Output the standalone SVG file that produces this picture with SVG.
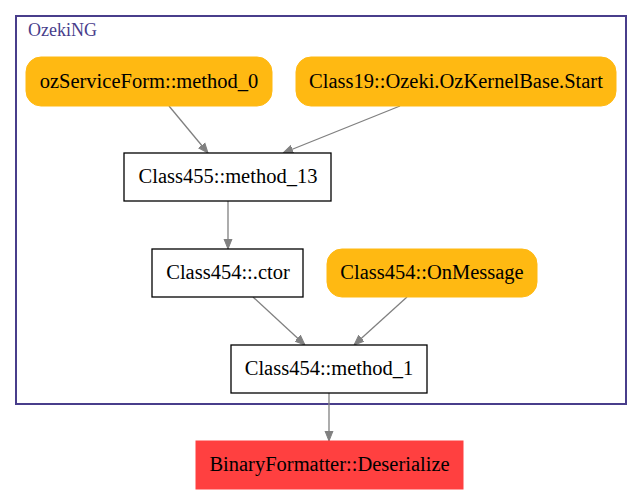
<svg xmlns="http://www.w3.org/2000/svg" width="643" height="495" viewBox="0 0 643 495">
<defs>
<marker id="ah" viewBox="0 0 10 10" refX="10" refY="5" markerWidth="10" markerHeight="10" markerUnits="userSpaceOnUse" orient="auto">
<path d="M0,1 L10,5 L0,9 Z" fill="#808080" stroke="#808080"/>
</marker>
</defs>
<style>
text{font-family:'Liberation Serif',serif;font-size:20.5px;fill:#000;text-anchor:middle}
.orange{fill:#ffb912;stroke:#ffb912}
.box{fill:#fff;stroke:#000;stroke-width:1.3}
.red{fill:#ff4040;stroke:#ff4040}
.edge{stroke:#808080;stroke-width:1.3;fill:none;marker-end:url(#ah)}
.cl{fill:none;stroke:#483d8b;stroke-width:2}
.cllabel{font-size:18px;fill:#483d8b;text-anchor:start}
</style>
<rect width="643" height="495" fill="#fff"/>
<g id="cluster_OzekiNG">
<rect class="cl" x="16" y="16" width="610" height="388"/>
<text class="cllabel" x="28" y="36" font-family="Liberation Serif">OzekiNG</text>
</g>
<g id="edges">
<line class="edge" x1="169" y1="106" x2="208" y2="153"/>
<line class="edge" x1="400" y1="106" x2="283" y2="153"/>
<line class="edge" x1="228" y1="201" x2="228" y2="249"/>
<line class="edge" x1="253" y1="297" x2="305" y2="345"/>
<line class="edge" x1="407" y1="297" x2="354" y2="345"/>
<line class="edge" x1="329" y1="393" x2="329" y2="441"/>
</g>
<g id="node_ozServiceForm_method_0">
<rect class="orange" x="26" y="57" width="246" height="49" rx="15"/>
<text x="149" y="88">ozServiceForm::method_0</text>
</g>
<g id="node_Class19_Start">
<rect class="orange" x="296" y="57" width="320" height="49" rx="15"/>
<text x="456" y="88">Class19::Ozeki.OzKernelBase.Start</text>
</g>
<g id="node_Class455_method_13">
<rect class="box" x="124" y="153" width="207" height="48"/>
<text x="228" y="183">Class455::method_13</text>
</g>
<g id="node_Class454_ctor">
<rect class="box" x="152" y="249" width="151" height="48"/>
<text x="228" y="279">Class454::.ctor</text>
</g>
<g id="node_Class454_OnMessage">
<rect class="orange" x="327" y="249" width="210" height="48" rx="15"/>
<text x="432" y="279">Class454::OnMessage</text>
</g>
<g id="node_Class454_method_1">
<rect class="box" x="231" y="345" width="196" height="48"/>
<text x="329" y="375">Class454::method_1</text>
</g>
<g id="node_BinaryFormatter_Deserialize">
<rect class="red" x="196" y="441" width="267" height="48"/>
<text x="329.5" y="471">BinaryFormatter::Deserialize</text>
</g>
</svg>
